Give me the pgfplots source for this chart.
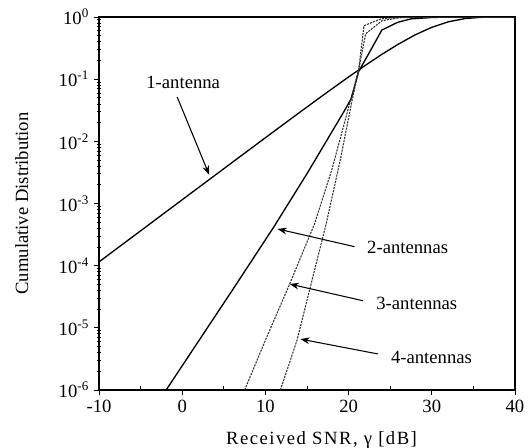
\documentclass[border=0pt]{standalone}
\usepackage{fontspec}
\setmainfont{Liberation Serif}
\usepackage{pgfplots}
\pgfplotsset{compat=1.18}
\usetikzlibrary{arrows.meta}
\newcommand{\fs}{\fontsize{14}{17}\selectfont}
\begin{document}
\begin{tikzpicture}
\begin{axis}[
  at={(0,0)}, anchor=south west,
  scale only axis, width=312pt, height=279.75pt,
  ymode=log, log basis y=10,
  xmin=-10, xmax=40, ymin=1e-6, ymax=1,
  xtick={-10,0,10,20,30,40},
  xticklabels={-10,0,10,20,30,40},
  minor xtick={-5,5,15,25,35},
  ytick={1e-6,1e-5,1e-4,1e-3,1e-2,1e-1,1},
  yticklabels={10\textsuperscript{-6},10\textsuperscript{-5},10\textsuperscript{-4},10\textsuperscript{-3},10\textsuperscript{-2},10\textsuperscript{-1},10\textsuperscript{0}},
  minor ytick={2e-6,3e-6,4e-6,5e-6,6e-6,7e-6,8e-6,9e-6,
               2e-5,3e-5,4e-5,5e-5,6e-5,7e-5,8e-5,9e-5,
               2e-4,3e-4,4e-4,5e-4,6e-4,7e-4,8e-4,9e-4,
               2e-3,3e-3,4e-3,5e-3,6e-3,7e-3,8e-3,9e-3,
               2e-2,3e-2,4e-2,5e-2,6e-2,7e-2,8e-2,9e-2,
               0.2,0.3,0.4,0.5,0.6,0.7,0.8,0.9},
  tick pos=left, tick align=outside,
  major tick length=4pt, minor tick length=3pt,
  every minor x tick/.append style={yshift=3pt},
  every minor y tick/.append style={xshift=1.5pt},
  tick style={black, line width=0.6pt},
  axis line style={black, line width=0.8pt},
  ticklabel style={font=\fs},
  xlabel={\addfontfeature{LetterSpace=8}Received SNR, γ [dB]},
  ylabel={Cumulative Distribution},
  label style={font=\fs},
  xlabel style={at={(axis description cs:0.535,0)}, anchor=base, yshift=-41pt},
  ylabel style={at={(axis description cs:0,0.5)}, anchor=center, yshift=58pt},
]
% 1-antenna
\addplot[black, line width=1pt] coordinates {
(-10,1.149e-4) (-8,1.822e-4) (-6,2.887e-4) (-4,4.576e-4) (-2,7.253e-4)
(0,1.149e-3) (2,1.820e-3) (4,2.883e-3) (6,4.566e-3) (8,7.227e-3)
(10,0.01143) (12,0.01805) (14,0.02846) (16,0.04473) (18,0.06996)
(20,0.1086) (22,0.1666) (24,0.2508) (26,0.3672) (28,0.5158)
(30,0.6832) (32,0.8383) (34,0.9443) (36,0.9897) (38,0.99929) (40,1.0)
};
% 2-antennas
\addplot[black, line width=1pt] coordinates {
(-1.93,1e-6) (6,3.98e-5) (11,4.17e-4) (15,3.02e-3) (19.4,0.0295)
(20.3,0.0479) (21.2,0.132) (22.5,0.269) (24,0.617) (25.9,0.822)
(27.5,0.933) (30,0.982) (32,0.998) (34,1) (40,1)
};
% 3-antennas
\addplot[black!80, line width=0.8pt, dash pattern=on 1.6pt off 0.8pt] coordinates {
(7.5,1e-6) (10,6.31e-6) (12.9,5.01e-5) (15.9,4.68e-4) (18,3.55e-3)
(20.24,0.0462) (21.2,0.138) (22.05,0.537) (24,0.871) (26,0.966)
(28,0.993) (30,1) (40,1)
};
% 4-antennas
\addplot[black!80, line width=0.8pt, dash pattern=on 1.6pt off 0.8pt] coordinates {
(11.8,1e-6) (13.8,6.31e-6) (15.2,3.55e-5) (17.3,4.68e-4) (19,5.01e-3)
(20.43,0.0462) (21.2,0.138) (21.85,0.724) (23.9,0.933) (26,0.989)
(28,1) (40,1)
};
% annotations
\node[font=\fs] at (axis cs:0.12,0.09) {1-antenna};
\draw[black, line width=0.8pt, -{Stealth[length=7pt,width=5pt]}] (axis cs:-0.6,0.0516) -- (axis cs:3.25,2.88e-3);
\node[font=\fs] at (axis cs:27.1,2.0e-4) {2-antennas};
\draw[black, line width=0.8pt, -{Stealth[length=7pt,width=5pt]}] (axis cs:20.72,2.02e-4) -- (axis cs:11.45,3.9e-4);
\node[font=\fs] at (axis cs:28.2,2.5e-5) {3-antennas};
\draw[black, line width=0.8pt, -{Stealth[length=7pt,width=5pt]}] (axis cs:21.72,2.73e-5) -- (axis cs:12.9,5.07e-5);
\node[font=\fs] at (axis cs:29.96,3.36e-6) {4-antennas};
\draw[black, line width=0.8pt, -{Stealth[length=7pt,width=5pt]}] (axis cs:23.53,3.8e-6) -- (axis cs:14.2,6.6e-6);
\end{axis}
\pgfresetboundingbox
\path (-74.25pt,-42.75pt) rectangle (321.75pt,292.5pt);
\end{tikzpicture}
\end{document}
